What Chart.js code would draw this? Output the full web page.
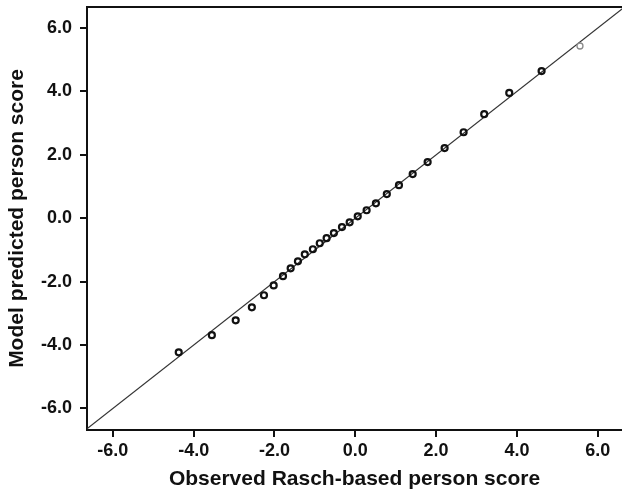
<!DOCTYPE html>
<html>
<head>
<meta charset="utf-8">
<script src="https://cdn.jsdelivr.net/npm/chart.js@4"></script>
<style>
  body { margin: 0; background: #fff; }
</style>
</head>
<body>
<canvas id="chart" width="622" height="494"></canvas>
<script>
// observed vs. model predicted person scores
const observed = [-4.37, -3.55, -2.96, -2.56, -2.26, -2.02, -1.79, -1.60, -1.42, -1.25,
  -1.05, -0.88, -0.71, -0.53, -0.33, -0.14, 0.06, 0.28, 0.51, 0.78,
  1.08, 1.42, 1.79, 2.21, 2.68, 3.19, 3.81, 4.61, 5.56]
const predicted = [-4.23, -3.69, -3.22, -2.81, -2.43, -2.12, -1.83, -1.58, -1.36, -1.14,
  -0.98, -0.79, -0.63, -0.47, -0.28, -0.13, 0.06, 0.25, 0.47, 0.76,
  1.04, 1.39, 1.77, 2.21, 2.71, 3.28, 3.95, 4.64, 5.43]
const tickValues = [-6, -4, -2, 0, 2, 4, 6]
const identityLine = [-7, 7]

const points = observed.map((x, i) => ({ x, y: predicted[i] }))
const pointColors = observed.map((x, i) => i === observed.length - 1 ? '#8a8a8a' : '#111')
const pointWidths = observed.map((x, i) => i === observed.length - 1 ? 1.3 : 2.2)

const topBorder = {
  id: 'topBorder',
  afterDraw(chart) {
    const { ctx, chartArea } = chart
    ctx.save()
    ctx.strokeStyle = '#111'
    ctx.lineWidth = 2
    ctx.beginPath()
    ctx.moveTo(chartArea.left, chartArea.top)
    ctx.lineTo(chartArea.right, chartArea.top)
    ctx.stroke()
    ctx.restore()
  }
}

const axisStyle = (title, size) => ({
  type: 'linear',
  ticks: {
    color: '#111',
    font: { family: 'Liberation Sans, Arial', size: 18, weight: 'bold' },
    callback: (v) => v.toFixed(1)
  },
  grid: { drawOnChartArea: false, drawTicks: true, tickLength: 7, color: '#111', lineWidth: 2 },
  border: { color: '#111', width: 2 },
  title: {
    display: true,
    text: title,
    color: '#111',
    font: { family: 'Liberation Sans, Arial', size: 21, weight: 'bold' }
  },
  afterBuildTicks: (scale) => {
    scale.ticks = tickValues.map(v => ({ value: v }))
  },
  afterFit: (scale) => {
    if (scale.isHorizontal()) scale.height = size
    else scale.width = size
    scale.paddingLeft = 0
    scale.paddingRight = 0
    scale.paddingTop = 0
    scale.paddingBottom = 0
  }
})

const xAxis = axisStyle('Observed Rasch-based person score', 64)
xAxis.min = -6.64
xAxis.max = 6.6
xAxis.ticks.padding = 3
xAxis.title.padding = { top: 0, bottom: 2 }

const yAxis = axisStyle('Model predicted person score', 87)
yAxis.min = -6.68
yAxis.max = 6.66
yAxis.ticks.padding = 8
yAxis.title.padding = { top: 5, bottom: 0 }

new Chart(document.getElementById('chart'), {
  type: 'scatter',
  data: {
    datasets: [
      {
        label: 'Persons',
        data: points,
        pointRadius: 3,
        pointBorderWidth: pointWidths,
        pointBorderColor: pointColors,
        pointBackgroundColor: 'rgba(255,255,255,0)'
      },
      {
        type: 'line',
        label: 'Identity',
        data: identityLine.map(v => ({ x: v, y: v })),
        borderColor: '#333',
        borderWidth: 1.2,
        pointRadius: 0,
        fill: false
      }
    ]
  },
  options: {
    responsive: false,
    animation: false,
    layout: { autoPadding: false, padding: { top: 7, right: 0, left: 0, bottom: 0 } },
    scales: { x: xAxis, y: yAxis },
    plugins: {
      legend: { display: false },
      tooltip: { enabled: false }
    }
  },
  plugins: [topBorder]
})
</script>
</body>
</html>
